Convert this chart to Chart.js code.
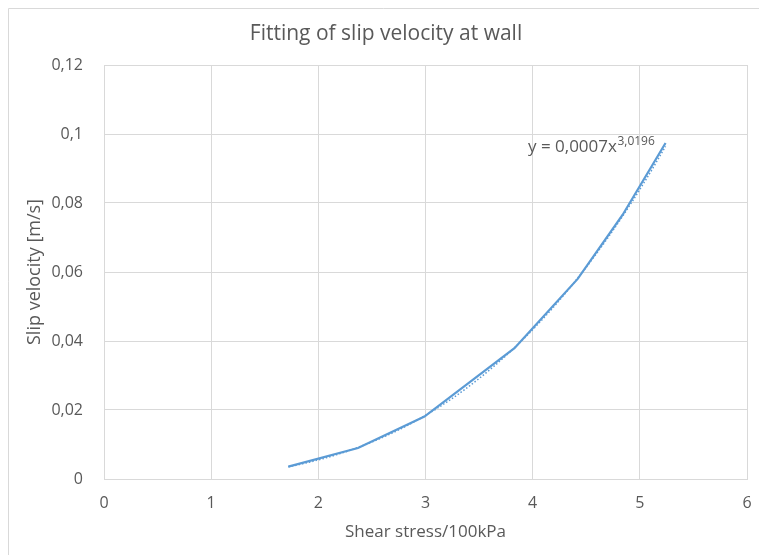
<!DOCTYPE html>
<html>
<head>
<meta charset="utf-8">
<script src="https://cdn.jsdelivr.net/npm/chart.js@4/dist/chart.umd.min.js"></script>
<style>
  html, body { margin: 0; padding: 0; background: #ffffff; }
  #wrap { width: 759px; height: 555px; position: relative; }
</style>
</head>
<body>
<div id="wrap"><canvas id="chart" width="759" height="555"></canvas></div>
<script>
// Measured slip velocity against wall shear stress
const shearStress = [1.72, 2.37, 2.99, 3.83, 4.42, 4.84, 5.24];       // 100 kPa
const slipVelocity = [0.0036, 0.009, 0.0181, 0.0379, 0.058, 0.0766, 0.0974]; // m/s

const xTicks = [0, 1, 2, 3, 4, 5, 6];
const yTicks = [0, 0.02, 0.04, 0.06, 0.08, 0.1, 0.12];

const titleText = 'Fitting of slip velocity at wall';
const xTitle = 'Shear stress/100kPa';
const yTitle = 'Slip velocity [m/s]';
const eqMain = 'y = 0,0007x';
const eqPower = '3,0196';

const FONT = '"Open Sans", "Liberation Sans", sans-serif';
const TEXT = '#595959';
const GRID = '#d9d9d9';
const BLUE = '#5b9bd5';

// Power-law trendline y = a·x^b, least squares on ln(x), ln(y)
function powerFit(xs, ys) {
  const n = xs.length;
  let sx = 0, sy = 0, sxx = 0, sxy = 0;
  for (let i = 0; i < n; i++) {
    const lx = Math.log(xs[i]), ly = Math.log(ys[i]);
    sx += lx; sy += ly; sxx += lx * lx; sxy += lx * ly;
  }
  const b = (n * sxy - sx * sy) / (n * sxx - sx * sx);
  const a = Math.exp((sy - b * sx) / n);
  return { a, b };
}
const fit = powerFit(shearStress, slipVelocity);
const xMin = Math.min(...shearStress), xMax = Math.max(...shearStress);
const trendPoints = [];
const STEPS = 80;
for (let i = 0; i <= STEPS; i++) {
  const x = xMin + (xMax - xMin) * i / STEPS;
  trendPoints.push({ x, y: fit.a * Math.pow(x, fit.b) });
}

const measured = shearStress.map((x, i) => ({ x, y: slipVelocity[i] }));

function commaNum(v) {
  return String(Number(v.toFixed(4))).replace('.', ',');
}

// Thin frame along the top and left edges of the chart
const framePlugin = {
  id: 'frame',
  beforeDraw(chart) {
    const ctx = chart.ctx;
    ctx.save();
    ctx.strokeStyle = '#d9d9d9';
    ctx.lineWidth = 1;
    ctx.beginPath();
    ctx.moveTo(8.5, 555);
    ctx.lineTo(8.5, 8.5);
    ctx.lineTo(759, 8.5);
    ctx.stroke();
    ctx.restore();
  }
};

// Trendline equation with superscript exponent
const equationPlugin = {
  id: 'equation',
  afterDatasetsDraw(chart) {
    const ctx = chart.ctx;
    const xs = chart.scales.x, ys = chart.scales.y;
    const px = xs.getPixelForValue(3.956);
    const py = ys.getPixelForValue(0.0948);
    ctx.save();
    ctx.fillStyle = TEXT;
    ctx.textBaseline = 'alphabetic';
    ctx.textAlign = 'left';
    ctx.font = '17px ' + FONT;
    ctx.fillText(eqMain, px, py);
    const w = ctx.measureText(eqMain).width;
    ctx.font = '12px ' + FONT;
    ctx.fillText(eqPower, px + w + 0.5, py - 7);
    ctx.restore();
  }
};

// Keep the plot edges fixed regardless of label overhang
function noOverhang(scale) {
  scale.paddingLeft = 0;
  scale.paddingRight = 0;
  scale.paddingTop = 0;
  scale.paddingBottom = 0;
}

new Chart(document.getElementById('chart'), {
  type: 'scatter',
  data: {
    datasets: [
      {
        label: 'Slip velocity',
        data: measured,
        showLine: true,
        borderColor: BLUE,
        backgroundColor: BLUE,
        borderWidth: 2.2,
        pointRadius: 0,
        tension: 0,
        order: 1
      },
      {
        label: 'Power trendline',
        data: trendPoints,
        showLine: true,
        borderColor: BLUE,
        borderWidth: 1.5,
        borderDash: [1.5, 2],
        pointRadius: 0,
        tension: 0,
        order: 2
      }
    ]
  },
  options: {
    responsive: false,
    animation: false,
    devicePixelRatio: 1,
    layout: { padding: { left: 25, right: 12, top: 0, bottom: 0 } },
    plugins: {
      legend: { display: false },
      tooltip: { enabled: false },
      title: {
        display: true,
        text: titleText,
        color: TEXT,
        font: { family: FONT, size: 21, weight: 'normal', lineHeight: 1.2 },
        padding: { top: 21.4, bottom: 18.4 }
      }
    },
    scales: {
      x: {
        type: 'linear',
        min: 0, max: 6,
        afterBuildTicks(scale) { scale.ticks = xTicks.map(v => ({ value: v })); },
        afterFit(scale) { scale.height = 76; noOverhang(scale); },
        grid: { color: GRID, drawTicks: false, lineWidth: 1 },
        border: { display: true, color: GRID },
        ticks: {
          color: TEXT,
          padding: 15,
          font: { family: FONT, size: 16, lineHeight: 1.2 },
          callback: v => commaNum(v),
          maxRotation: 0
        },
        title: {
          display: true,
          text: xTitle,
          color: TEXT,
          font: { family: FONT, size: 17, lineHeight: 1.2 },
          padding: { top: 0, bottom: 12.8 }
        }
      },
      y: {
        type: 'linear',
        min: 0, max: 0.12,
        afterBuildTicks(scale) { scale.ticks = yTicks.map(v => ({ value: v })); },
        afterFit(scale) { scale.width = 79; noOverhang(scale); },
        grid: { color: GRID, drawTicks: false, lineWidth: 1 },
        border: { display: true, color: GRID },
        ticks: {
          color: TEXT,
          padding: 21,
          font: { family: FONT, size: 16 },
          callback: v => commaNum(v)
        },
        title: {
          display: true,
          text: yTitle,
          color: TEXT,
          font: { family: FONT, size: 18, lineHeight: 1.1 },
          padding: { top: 0, bottom: 0 }
        }
      }
    }
  },
  plugins: [framePlugin, equationPlugin]
});
</script>
</body>
</html>
